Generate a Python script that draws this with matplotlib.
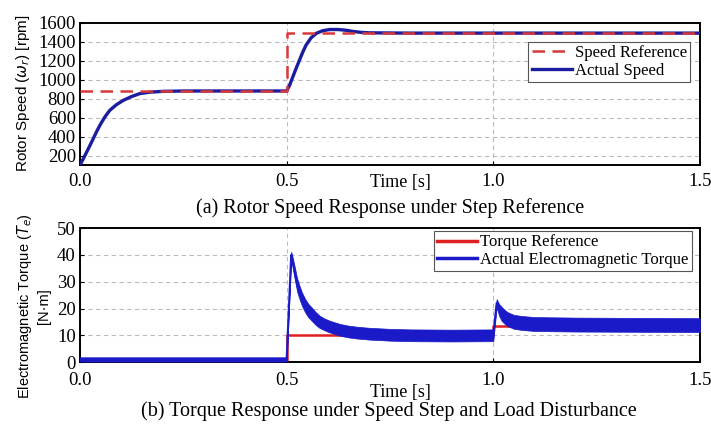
import matplotlib
matplotlib.use("Agg")
import matplotlib.pyplot as plt

SAVE_FILENAME = "out.png"
SERIF = "Liberation Serif"
SANS = "Liberation Sans"

# (a) rotor speed
t_ref_speed = [0.0, 0.5, 0.5, 1.5]
speed_ref = [885, 885, 1490, 1490]
t_speed = [0.0, 0.008, 0.016, 0.024, 0.032, 0.04, 0.048, 0.06, 0.072, 0.088,
           0.105, 0.125, 0.145, 0.17, 0.2, 0.25, 0.3, 0.5,
           0.507, 0.515, 0.523, 0.531, 0.539, 0.547, 0.559, 0.572, 0.587,
           0.604, 0.624, 0.644, 0.66, 0.68, 0.7, 0.8, 1.5]
speed_act = [100, 165, 235, 305, 377, 450, 517, 605, 676, 735,
             782, 822, 853, 868, 876, 880, 880, 880,
             940, 1029, 1120, 1205, 1290, 1364, 1440, 1488, 1515,
             1528, 1528, 1520, 1508, 1498, 1493, 1490, 1490]

# (b) torque
t_ref_torque = [0.0, 0.5, 0.5, 1.0, 1.0, 1.5]
torque_ref = [0, 0, 10, 10, 13.5, 13.5]
t_torque = [0.0, 0.499, 0.5, 0.511, 0.515, 0.52, 0.525, 0.53, 0.537, 0.545,
            0.552, 0.56, 0.57, 0.58, 0.59, 0.6, 0.615, 0.63, 0.65, 0.67,
            0.7, 0.75, 0.8, 0.9, 0.999, 1.0, 1.008, 1.014, 1.02, 1.028,
            1.035, 1.05, 1.07, 1.1, 1.2, 1.5]
torque_mid = [1, 1, 1, 40, 37, 33, 29, 26.5, 23.5, 21,
              19.3, 18, 16.3, 15, 14.2, 13.5, 12.7, 12, 11.4, 11,
              10.6, 10.2, 10, 9.9, 10, 10, 22, 19.5, 18, 16.8,
              16, 15, 14.6, 14.2, 14, 13.8]
torque_half = [0.8, 0.8, 0.8, 1.2, 1.8, 2.2, 2.5, 2.5, 2.5, 2.5,
               2.5, 2.5, 2.4, 2.3, 2.2, 2.2, 2.2, 2.2, 2.2, 2.2,
               2.2, 2.2, 2.2, 2.2, 2.2, 2.2, 1.5, 2.2, 2.6, 2.6,
               2.6, 2.6, 2.6, 2.6, 2.6, 2.6]

x_ticks = [0.0, 0.5, 1.0, 1.5]
x_tick_labels = ["0.0", "0.5", "1.0", "1.5"]

fig = plt.figure(figsize=(7.11, 4.28), dpi=100)
ax1 = fig.add_axes([0.1125, 0.6145, 0.872, 0.3325])
ax2 = fig.add_axes([0.1125, 0.154, 0.872, 0.313])


def style(ax):
    ax.set_xlim(0, 1.5)
    ax.set_xticks(x_ticks)
    ax.set_xticklabels(x_tick_labels)
    ax.grid(True, color="#bbbbbb", linestyle=(0, (4, 3)), linewidth=0.8)
    ax.tick_params(direction="in", length=3, labelsize=13.5, pad=3)
    for lab in ax.get_xticklabels() + ax.get_yticklabels():
        lab.set_fontfamily(SERIF)
    for sp in ax.spines.values():
        sp.set_linewidth(1.4)
    ax.set_axisbelow(True)


# top panel
ax1.plot(t_speed, speed_act, color="#1c1ca0", lw=2.4, label="Actual Speed", zorder=3)
ax1.plot(t_ref_speed, speed_ref, color="#d83838", lw=1.8, dashes=(5, 3),
         label="Speed Reference", zorder=4)
ax1.set_ylim(100, 1600)
ax1.set_yticks(range(200, 1601, 200))
style(ax1)
ax1.tick_params(axis="x", pad=6)
h, l = ax1.get_legend_handles_labels()
leg1 = ax1.legend(h[::-1], l[::-1], loc="upper right", bbox_to_anchor=(0.99, 0.89),
                  prop={"family": SERIF, "size": 12}, fancybox=False,
                  edgecolor="#555555", framealpha=1, borderpad=0.2,
                  labelspacing=0.1, handlelength=2.4, handletextpad=0.2,
                  borderaxespad=0.2)
leg1.get_frame().set_linewidth(0.8)

# bottom panel
ax2.plot(t_ref_torque, torque_ref, color="#e02020", lw=1.8, label="Torque Reference", zorder=2)
lo = [m - w for m, w in zip(torque_mid, torque_half)]
hi = [m + w for m, w in zip(torque_mid, torque_half)]
ax2.fill_between(t_torque, lo, hi, color="#1a1ac8", lw=0.5, zorder=3)
ax2.plot(t_torque, torque_mid, color="#1a1ac8", lw=1.5,
         label="Actual Electromagnetic Torque", zorder=3)
ax2.set_ylim(0, 50)
ax2.set_yticks(range(0, 51, 10))
style(ax2)
ax2.tick_params(axis="x", pad=7)
leg2 = ax2.legend(loc="upper right", bbox_to_anchor=(0.99, 0.99),
                  prop={"family": SERIF, "size": 12}, fancybox=False,
                  edgecolor="#555555", framealpha=1, borderpad=0.2,
                  labelspacing=0.1, handlelength=2.4, handletextpad=0.2,
                  borderaxespad=0.1)
leg2.get_frame().set_linewidth(0.8)
for line in leg2.get_lines():
    line.set_linewidth(2.5)

# labels and captions
fig.text(23 / 711, 1 - 93 / 428, r"Rotor Speed ($\omega_r$) [rpm]", rotation=90,
         ha="center", va="center", family=SANS, fontsize=11)
fig.text(33 / 711, 1 - 306 / 428, "Electromagnetic Torque ($T_e$)\n[N·m]", rotation=90,
         ha="center", va="center", family=SANS, fontsize=10.5, multialignment="center",
         linespacing=1.2)
fig.text(400 / 711, 1 - 183 / 428, "Time [s]", ha="center", va="center",
         family=SERIF, fontsize=13)
fig.text(400 / 711, 1 - 393 / 428, "Time [s]", ha="center", va="center",
         family=SERIF, fontsize=13)
fig.text(390 / 711, 1 - 208 / 428, "(a) Rotor Speed Response under Step Reference",
         ha="center", va="center", family=SERIF, fontsize=14.5)
fig.text(389 / 711, 1 - 411 / 428,
         "(b) Torque Response under Speed Step and Load Disturbance",
         ha="center", va="center", family=SERIF, fontsize=14.5)

fig.savefig(SAVE_FILENAME, dpi=100)
